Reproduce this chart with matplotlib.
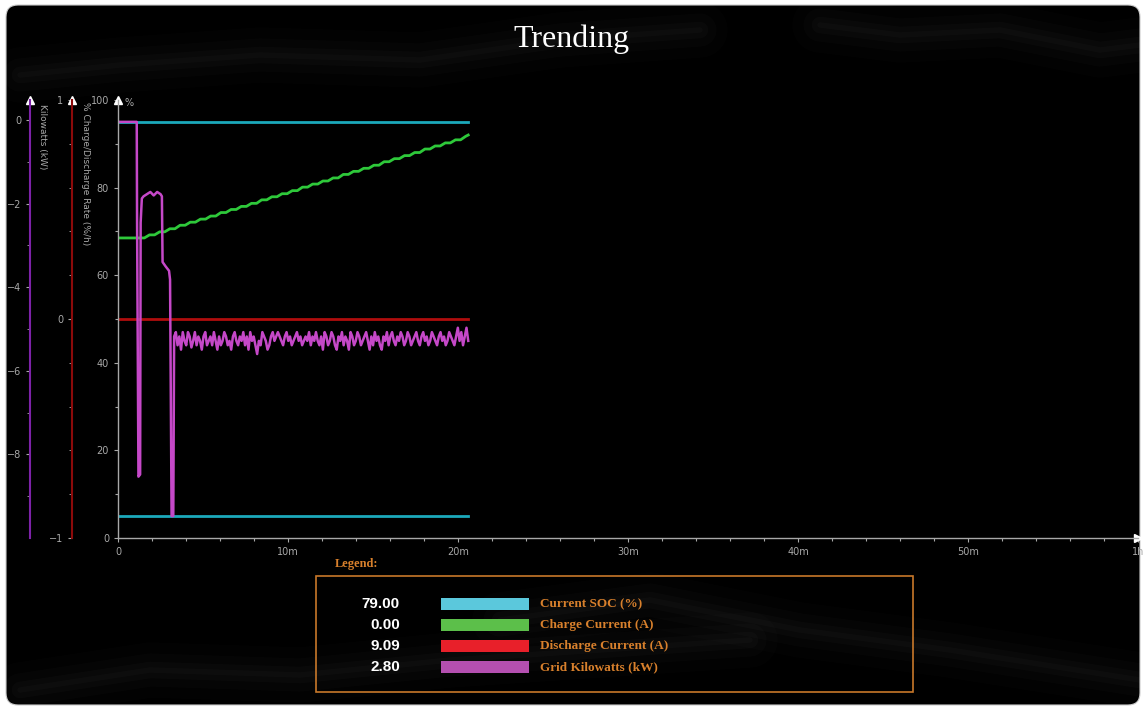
import numpy as np
import matplotlib
matplotlib.use('Agg')
import matplotlib.pyplot as plt
from matplotlib.patches import FancyBboxPatch, Rectangle

# ---- data (minutes, %) ----
soc_hi = 95
soc_lo = 5
t_end = 20.6

# charge current: step times and levels
charge_t = [0, 1.7, 2.3, 2.9, 3.5, 4.1, 4.7, 5.3, 5.9, 6.5, 7.1, 7.7, 8.3, 8.9, 9.5,
            10.1, 10.7, 11.3, 11.9, 12.5, 13.1, 13.7, 14.3, 14.9, 15.5, 16.1, 16.7,
            17.3, 17.9, 18.5, 19.1, 19.7, 20.3]
charge_v = [68.5, 69.2, 69.9, 70.6, 71.4, 72.1, 72.8, 73.5, 74.3, 75.0, 75.7, 76.4,
            77.2, 77.9, 78.6, 79.3, 80.1, 80.8, 81.5, 82.2, 83.0, 83.7, 84.4, 85.1,
            85.9, 86.6, 87.3, 88.0, 88.8, 89.5, 90.2, 90.9, 91.7]

discharge_v = 50

grid_t_start = [0, 1.1, 1.12, 1.2, 1.3, 1.33, 1.4, 1.5, 1.7, 1.9, 2.1, 2.3, 2.5, 2.58,
                2.62, 2.8, 3.0, 3.06, 3.15, 3.25, 3.3]
grid_v_start = [95, 95, 72, 14, 14.5, 72, 77.5, 78, 78.5, 79, 78.2, 79, 78.5, 78,
                63, 62, 61, 59, 5, 5, 46]
grid_noise = [47, 44, 46, 43, 47, 45, 44, 47, 46, 43.5, 45, 47, 44, 46, 45, 43, 46, 47,
              44, 45, 46, 44, 47, 45, 43, 46, 44, 45, 47, 46, 44, 45, 43, 46, 47, 45,
              44, 46, 45, 47, 44, 46, 43, 47, 45, 46, 44, 42, 45, 44, 47, 46, 45, 43,
              44, 46, 47, 45, 46, 47, 46, 45, 44, 46, 47, 45, 46, 44, 45, 46, 47, 45,
              46, 44, 45, 46, 45, 47, 44, 46, 45, 47, 45, 44, 46, 43, 47, 46, 44, 45,
              47, 46, 44, 43, 46, 45, 47, 44, 46, 45, 43, 47, 46, 44, 45, 47, 46, 44,
              45, 46, 47, 45, 43, 46, 44, 47, 45, 46, 44, 43, 46, 45, 47, 44, 46, 47,
              45, 44, 46, 45, 47, 46, 44, 45, 47, 46, 44, 45, 46, 47, 45, 44, 46, 47,
              45, 46, 44, 45, 47, 46, 45, 44, 46, 47, 45, 46, 44, 45, 47, 46, 45, 44,
              46, 48, 45, 47, 44, 46, 48, 45]

legend_values = ['79.00', '0.00', '9.09', '2.80']
legend_names = ['Current SOC (%)', 'Charge Current (A)', 'Discharge Current (A)',
                'Grid Kilowatts (kW)']
legend_colors = ['#5bc8dc', '#5cbf4a', '#e8202a', '#b44fb0']

x_ticks = [0, 10, 20, 30, 40, 50, 60]
x_labels = ['0', '10m', '20m', '30m', '40m', '50m', '1h']

grey = '#a8a8a8'

fig = plt.figure(figsize=(11.46, 7.09), dpi=100, facecolor='white')
panel = FancyBboxPatch((0.18, 0.16), 11.10, 6.76, boxstyle='round,pad=0.12',
                       transform=fig.dpi_scale_trans, facecolor='black',
                       edgecolor='#cccccc', lw=0.8, zorder=-10)
fig.patches.append(panel)

# faint smoke wisps in the background (decoration only)
bg = fig.add_axes([0, 0, 1, 1], zorder=-5)
bg.set_xlim(0, 1146)
bg.set_ylim(709, 0)
bg.axis('off')
wisps = [
    ([20, 120, 260, 420, 560, 700], [75, 65, 55, 60, 40, 30]),
    ([820, 900, 1000, 1100, 1140], [25, 35, 30, 50, 45]),
    ([20, 150, 300, 450, 600, 750], [690, 670, 675, 660, 650, 640]),
    ([500, 650, 800, 950, 1140], [620, 600, 630, 650, 680]),
]
for wx, wy in wisps:
    for w, a in [(40, 0.012), (24, 0.015), (12, 0.018), (4, 0.02)]:
        bg.plot(wx, wy, color='white', lw=w, alpha=a, solid_capstyle='round')

fig.text(0.4991, 1 - 39 / 709, 'Trending', color='white', fontsize=23,
         family='Liberation Serif', ha='center', va='center')

ax = fig.add_axes([0.103, 0.2412, 0.890, 0.6178])
ax.set_facecolor('none')
ax.set_xlim(0, 60)
ax.set_ylim(0, 100)

ax.plot([0, t_end], [soc_hi, soc_hi], color='#1ba9bb', lw=2)
ax.plot([0, t_end], [soc_lo, soc_lo], color='#1ba9bb', lw=2)
ax.plot([0, t_end], [discharge_v, discharge_v], color='#b00d0d', lw=2)

# staircase with short ramps between levels
ct, cv = [charge_t[0]], [charge_v[0]]
for i in range(1, len(charge_t)):
    ct += [charge_t[i] - 0.15, charge_t[i] + 0.15]
    cv += [charge_v[i - 1], charge_v[i]]
ct.append(t_end)
cv.append(charge_v[-1] + 0.3)
ax.plot(ct, cv, color='#2ec83a', lw=2)

grid_t = list(grid_t_start) + list(np.linspace(3.4, t_end, len(grid_noise)))
grid_v = list(grid_v_start) + grid_noise
ax.plot(grid_t, grid_v, color='#c548c8', lw=1.8)

for s in ['top', 'right']:
    ax.spines[s].set_visible(False)
for s in ['left', 'bottom']:
    ax.spines[s].set_color(grey)
    ax.spines[s].set_linewidth(1)
ax.set_yticks([0, 20, 40, 60, 80, 100])
ax.set_yticks(range(10, 100, 20), minor=True)
ax.set_xticks(x_ticks)
ax.set_xticklabels(x_labels)
ax.set_xticks(range(2, 60, 2), minor=True)
ax.tick_params(colors=grey, labelsize=7, length=3, width=0.8)
ax.tick_params(which='minor', colors=grey, length=2, width=0.8)
ax.plot([1], [0], marker='>', color='white', ms=6, transform=ax.transAxes, clip_on=False)
ax.plot([0], [1], marker='^', color='white', ms=6, transform=ax.transAxes, clip_on=False)
ax.text(0.006, 0.992, '%', color=grey, fontsize=7, transform=ax.transAxes, va='center')

# kilowatts axis
axk = ax.twinx()
axk.set_ylim(-10, 0.478)
axk.yaxis.set_ticks_position('left')
axk.spines['left'].set_position(('axes', (30 - 118) / 1020))
axk.spines['left'].set_color('#7d22a8')
axk.spines['left'].set_linewidth(1.5)
for s in ['top', 'right', 'bottom']:
    axk.spines[s].set_visible(False)
axk.set_yticks([0, -2, -4, -6, -8])
axk.set_yticks([-1, -3, -5, -7, -9], minor=True)
axk.tick_params(colors=grey, labelsize=7, length=3)
axk.tick_params(which='minor', colors=grey, length=2)
axk.plot([(30 - 118) / 1020], [1], marker='^', color='white', ms=6,
         transform=axk.transAxes, clip_on=False)

# charge/discharge rate axis
axr = ax.twinx()
axr.set_ylim(-1, 1)
axr.yaxis.set_ticks_position('left')
axr.spines['left'].set_position(('axes', (72 - 118) / 1020))
axr.spines['left'].set_color('#8c0a0a')
axr.spines['left'].set_linewidth(1.5)
for s in ['top', 'right', 'bottom']:
    axr.spines[s].set_visible(False)
axr.set_yticks([-1, 0, 1])
axr.set_yticks([-0.8, -0.6, -0.4, -0.2, 0.2, 0.4, 0.6, 0.8], minor=True)
axr.tick_params(colors=grey, labelsize=7, length=3)
axr.tick_params(which='minor', colors=grey, length=2)
axr.plot([(72 - 118) / 1020], [1], marker='^', color='white', ms=6,
         transform=axr.transAxes, clip_on=False)

fig.text(42 / 1146, 1 - 104 / 709, 'Kilowatts (kW)', color=grey, fontsize=6.5,
         rotation=270, ha='center', va='top')
fig.text(85 / 1146, 1 - 102 / 709, '% Charge/Discharge Rate (%/h)', color=grey,
         fontsize=6.5, rotation=270, ha='center', va='top')

# legend block
fig.patches.append(Rectangle((316 / 1146, 1 - 692 / 709), 597 / 1146, 116 / 709,
                             transform=fig.transFigure, fill=False,
                             edgecolor='#c8782a', lw=1.2))
fig.text(335 / 1146, 1 - 564 / 709, 'Legend:', color='#d8802c', fontsize=9,
         family='Liberation Serif', weight='bold', va='center')
for i in range(4):
    yy = 1 - (604 + 21 * i) / 709
    fig.text(400 / 1146, yy, legend_values[i], color='white', fontsize=11,
             weight='bold', ha='right', va='center', family='Liberation Sans')
    fig.patches.append(Rectangle((441 / 1146, yy - 6 / 709), 88 / 1146, 12 / 709,
                                 transform=fig.transFigure, facecolor=legend_colors[i],
                                 edgecolor='none'))
    fig.text(540 / 1146, yy, legend_names[i], color='#d8802c', fontsize=9.5,
             family='Liberation Serif', weight='bold', va='center')

fig.savefig('out.png', dpi=100, facecolor='white')
